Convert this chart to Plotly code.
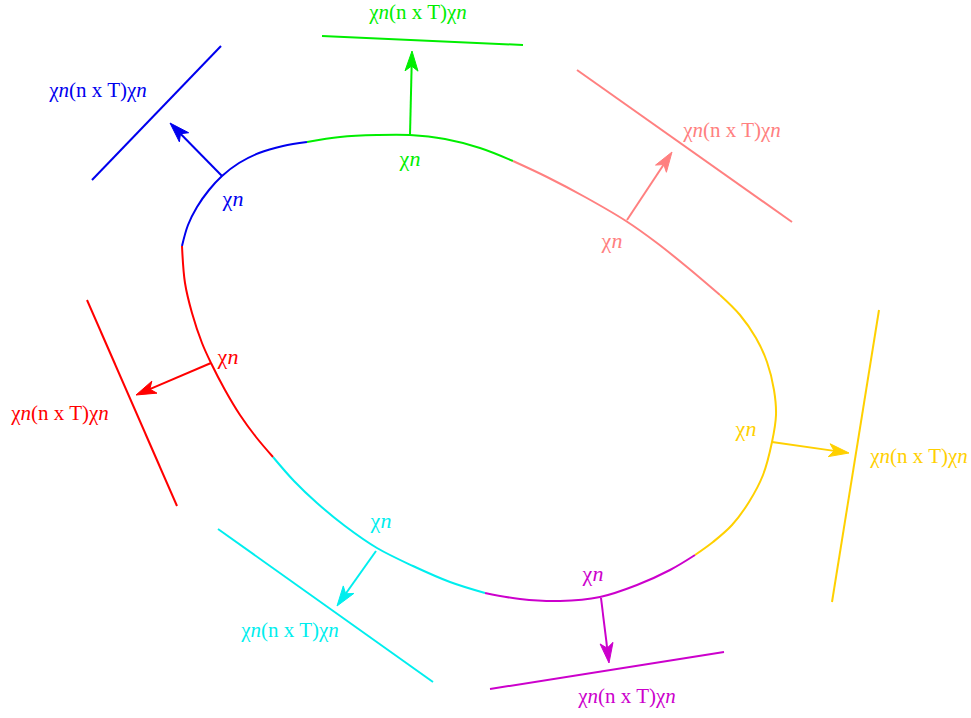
import numpy as np
import plotly.graph_objects as go

# ---- curve segments (pixel-like coordinates, y grows downward) ----
colors = ["#0000ee", "#00ee00", "#ff8080", "#ffd000", "#cc00cc", "#00eeee", "#ff0000"]

blue_x = [182, 188, 197, 209, 222, 239, 259, 283, 307]
blue_y = [246, 225, 207, 190, 176, 163, 153, 146, 142]
green_x = [307, 340, 377, 410, 445, 480, 513]
green_y = [142, 137, 135, 135, 139, 148, 161]
pink_x = [513, 547, 585, 626, 657, 687, 720]
pink_y = [161, 177, 197, 221, 243, 267, 295]
yellow_x = [720, 740, 756, 767, 774, 776, 772, 763, 749, 732, 713, 695]
yellow_y = [295, 315, 338, 362, 390, 415, 442, 475, 502, 525, 542, 555]
magenta_x = [695, 670, 637, 600, 560, 520, 485]
magenta_y = [555, 570, 585, 597, 601, 599, 593]
cyan_x = [485, 450, 413, 377, 345, 317, 294, 273]
cyan_y = [593, 582, 566, 548, 526, 503, 481, 457]
red_x = [273, 256, 240, 225, 211, 202, 192, 185, 182]
red_y = [457, 437, 415, 390, 363, 343, 313, 283, 246]

segments_x = [blue_x, green_x, pink_x, yellow_x, magenta_x, cyan_x, red_x]
segments_y = [blue_y, green_y, pink_y, yellow_y, magenta_y, cyan_y, red_y]

# ---- normal arrows: base on curve -> tip ----
arrow_base_x = [222, 410, 627, 772, 601, 376, 211]
arrow_base_y = [176, 135, 220, 442, 598, 551, 363]
arrow_tip_x = [170, 412, 672, 849, 609, 337, 136]
arrow_tip_y = [123, 51, 152, 453, 663, 606, 395]

# ---- tangent planes (line segments) ----
plane_x0 = [92, 322, 577, 879, 490, 218, 87]
plane_y0 = [180, 36, 70, 310, 689, 529, 300]
plane_x1 = [221, 523, 792, 832, 724, 433, 177]
plane_y1 = [46, 45, 222, 602, 652, 682, 506]

# ---- labels ----
short_label = "χ<i>n</i>"
long_label = "χ<i>n</i>(n x T)χ<i>n</i>"
short_lx = [233, 410, 612, 746, 593, 381, 228]
short_ly = [200, 160, 242, 430, 575, 522, 358]
long_lx = [98, 418, 732, 919, 627, 290, 60]
long_ly = [92, 14, 132, 458, 698, 632, 415]

FONT = "Liberation Serif"
HEAD_LEN, HEAD_HALF_W, NOTCH = 20.0, 6.5, 5.0

fig = go.Figure()

for i, c in enumerate(colors):
    fig.add_trace(go.Scatter(
        x=segments_x[i], y=segments_y[i], mode="lines",
        line=dict(color=c, width=2, shape="spline", smoothing=1.0),
        hoverinfo="skip", showlegend=False))
    fig.add_trace(go.Scatter(
        x=[plane_x0[i], plane_x1[i]], y=[plane_y0[i], plane_y1[i]], mode="lines",
        line=dict(color=c, width=2), hoverinfo="skip", showlegend=False))
    # arrow: shaft + notched filled head
    b = np.array([arrow_base_x[i], arrow_base_y[i]], float)
    t = np.array([arrow_tip_x[i], arrow_tip_y[i]], float)
    d = (t - b) / np.linalg.norm(t - b)
    p = np.array([-d[1], d[0]])
    back = t - d * HEAD_LEN
    notch = back + d * NOTCH
    left = back + p * HEAD_HALF_W
    right = back - p * HEAD_HALF_W
    fig.add_trace(go.Scatter(
        x=[b[0], notch[0]], y=[b[1], notch[1]], mode="lines",
        line=dict(color=c, width=2), hoverinfo="skip", showlegend=False))
    fig.add_trace(go.Scatter(
        x=[t[0], left[0], notch[0], right[0], t[0]],
        y=[t[1], left[1], notch[1], right[1], t[1]],
        mode="lines", fill="toself", fillcolor=c,
        line=dict(color=c, width=1), hoverinfo="skip", showlegend=False))

fig.add_trace(go.Scatter(
    x=short_lx, y=short_ly, mode="text", text=[short_label] * 7,
    textfont=dict(family=FONT, size=22, color=colors),
    hoverinfo="skip", showlegend=False))
fig.add_trace(go.Scatter(
    x=long_lx, y=long_ly, mode="text", text=[long_label] * 7,
    textfont=dict(family=FONT, size=21, color=colors),
    hoverinfo="skip", showlegend=False))

fig.update_layout(
    width=971, height=718,
    margin=dict(l=0, r=0, t=0, b=0),
    paper_bgcolor="white", plot_bgcolor="white",
    xaxis=dict(range=[0, 971], visible=False, fixedrange=True),
    yaxis=dict(range=[718, 0], visible=False, fixedrange=True),
    showlegend=False,
)

fig.write_html("out.html", config={"displayModeBar": False},
               post_script="document.body.style.margin='0';document.body.style.overflow='hidden';")
